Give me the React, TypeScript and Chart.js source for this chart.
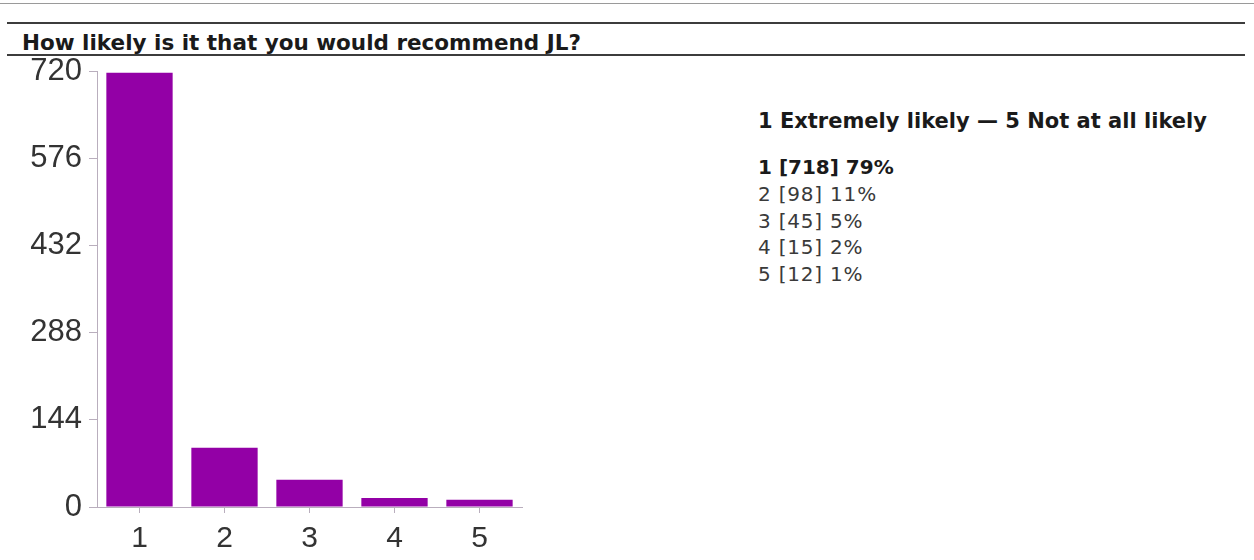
import React, { useEffect, useRef } from "react";
import { Chart, registerables } from "chart.js";

Chart.register(...registerables);

const titleText = "How likely is it that you would recommend JL?";
const legendTitle = "1 Extremely likely \u2014 5 Not at all likely";
const categories = ["1", "2", "3", "4", "5"];
const counts = [718, 98, 45, 15, 12];
const percents = [79, 11, 5, 2, 1];
const yTicks = [0, 144, 288, 432, 576, 720];

const BAR_COLOR = "#9300a6";

export default function App() {
  const canvasRef = useRef<HTMLCanvasElement | null>(null);

  useEffect(() => {
    if (!canvasRef.current) return;
    const chart = new Chart(canvasRef.current, {
      type: "bar",
      data: {
        labels: categories,
        datasets: [
          {
            data: counts,
            backgroundColor: BAR_COLOR,
            borderWidth: 0,
            barPercentage: 0.78,
            categoryPercentage: 1,
          },
        ],
      },
      options: {
        animation: false,
        responsive: false,
        maintainAspectRatio: false,
        layout: { padding: { top: 15, right: 18, left: 0, bottom: 0 } },
        plugins: { legend: { display: false }, tooltip: { enabled: false }, title: { display: false } },
        scales: {
          y: {
            min: 0,
            max: yTicks[yTicks.length - 1],
            afterBuildTicks: (scale: any) => {
              scale.ticks = yTicks.map((v) => ({ value: v }));
            },
            afterFit: (scale: any) => {
              scale.width = 97;
            },
            border: { display: true, color: "#b9aebd", width: 1 },
            grid: { drawOnChartArea: false, drawTicks: true, tickLength: 8, color: "#b9aebd" },
            ticks: {
              padding: 7,
              color: "#333333",
              font: { family: "'Liberation Sans', Arial, sans-serif", size: 31 },
            },
          },
          x: {
            afterFit: (scale: any) => {
              scale.height = 53;
            },
            border: { display: true, color: "#b9aebd", width: 1 },
            grid: { drawOnChartArea: false, drawTicks: true, tickLength: 6, color: "#b9aebd", offset: false },
            ticks: {
              padding: 8,
              color: "#333333",
              font: { family: "'Liberation Sans', Arial, sans-serif", size: 30 },
            },
          },
        },
      },
    });
    return () => chart.destroy();
  }, []);

  const textFont = "'DejaVu Sans', 'Noto Sans', sans-serif";

  return (
    <div
      style={{
        position: "absolute",
        left: 0,
        top: 0,
        width: 1254,
        height: 560,
        background: "#ffffff",
        overflow: "hidden",
      }}
    >
      <div style={{ position: "absolute", left: 0, top: 3, width: 1254, height: 1, background: "#9a9a9a" }} />
      <div style={{ position: "absolute", left: 7, top: 22, width: 1238, height: 2, background: "#3c3c3c" }} />
      <div style={{ position: "absolute", left: 7, top: 54, width: 1238, height: 2, background: "#3c3c3c" }} />
      <div
        style={{
          position: "absolute",
          left: 22,
          top: 30,
          fontFamily: textFont,
          fontWeight: "bold",
          fontSize: 21.5,
          lineHeight: "26px",
          color: "#1a1a1a",
          whiteSpace: "nowrap",
        }}
      >
        {titleText}
      </div>
      <canvas
        ref={canvasRef}
        width={540}
        height={514}
        style={{ position: "absolute", left: 0, top: 46, width: 540, height: 514 }}
      />
      <div
        style={{
          position: "absolute",
          left: 758,
          top: 108,
          fontFamily: textFont,
          fontWeight: "bold",
          fontSize: 21,
          lineHeight: "26px",
          color: "#1a1a1a",
          whiteSpace: "nowrap",
        }}
      >
        {legendTitle}
      </div>
      {categories.map((c, i) => (
        <div
          key={c}
          style={{
            position: "absolute",
            left: 758,
            top: 154 + i * 26.8,
            fontFamily: textFont,
            fontWeight: i === 0 ? "bold" : "normal",
            fontSize: 20,
            letterSpacing: i === 0 ? 0 : 0.8,
            lineHeight: "26px",
            color: i === 0 ? "#1a1a1a" : "#3a3a3a",
            whiteSpace: "nowrap",
          }}
        >
          {`${c} [${counts[i]}] ${percents[i]}%`}
        </div>
      ))}
    </div>
  );
}
